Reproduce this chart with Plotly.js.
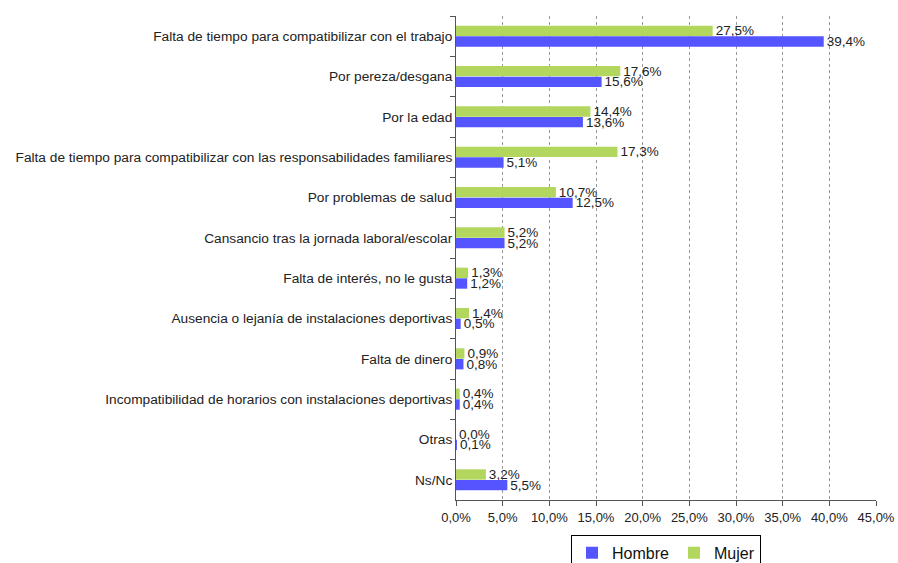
<!DOCTYPE html>
<html>
<head>
<meta charset="utf-8">
<script src="https://cdn.plot.ly/plotly-3.0.1.min.js"></script>
<style>html,body{margin:0;padding:0;background:#fff;}#chart{width:898px;height:563px;}</style>
</head>
<body>
<div id="chart"></div>
<script>
const categories = [
  "Falta de tiempo para compatibilizar con el trabajo",
  "Por pereza/desgana",
  "Por la edad",
  "Falta de tiempo para compatibilizar con las responsabilidades familiares",
  "Por problemas de salud",
  "Cansancio tras la jornada laboral/escolar",
  "Falta de interés, no le gusta",
  "Ausencia o lejanía de instalaciones deportivas",
  "Falta de dinero",
  "Incompatibilidad de horarios con instalaciones deportivas",
  "Otras",
  "Ns/Nc"
];
const mujer  = [27.5, 17.6, 14.4, 17.3, 10.7, 5.2, 1.3, 1.4, 0.9, 0.4, 0.0, 3.2];
const hombre = [39.4, 15.6, 13.6, 5.1, 12.5, 5.2, 1.2, 0.5, 0.8, 0.4, 0.1, 5.5];
const tickVals = [0, 5, 10, 15, 20, 25, 30, 35, 40, 45];
const tickText = tickVals.map(v => v.toFixed(1).replace(".", ",") + "%");

const FONT = "Liberation Sans, Arial, sans-serif";
const textFont = {family: FONT, size: 13.5, color: "#222"};

const traces = [
  {
    type: "bar", orientation: "h", name: "Mujer",
    y: categories, x: mujer,
    marker: {color: "#b2d65e", line: {width: 0}},
    texttemplate: "%{x:.1f}%", textposition: "outside", constraintext: "none",
    textfont: textFont, cliponaxis: false, legendrank: 2
  },
  {
    type: "bar", orientation: "h", name: "Hombre",
    y: categories, x: hombre,
    marker: {color: "#5555ff", line: {width: 0}},
    texttemplate: "%{x:.1f}%", textposition: "outside", constraintext: "none",
    textfont: textFont, cliponaxis: false, legendrank: 1
  }
];

const layout = {
  width: 898, height: 563,
  margin: {l: 456, r: 22, t: 16, b: 63, autoexpand: false},
  paper_bgcolor: "#fff", plot_bgcolor: "#fff",
  separators: ",.",
  barmode: "group",
  bargap: 0.47, bargroupgap: 0.03,
  font: {family: FONT, size: 13, color: "#222"},
  showlegend: true,
  legend: {
    orientation: "h", x: 0.5, xanchor: "center", y: -0.072, yanchor: "top",
    bordercolor: "#000", borderwidth: 1, font: {family: FONT, size: 16, color: "#111"},
    itemwidth: 30, tracegroupgap: 0
  },
  xaxis: {
    range: [0, 45], tickvals: tickVals, ticktext: tickText,
    showgrid: true, gridcolor: "#999", griddash: "3px,3px", gridwidth: 1,
    zeroline: false, showline: true, linecolor: "#555", linewidth: 1,
    ticks: "outside", ticklen: 5, tickcolor: "#555",
    tickfont: {family: FONT, size: 13, color: "#222"}, fixedrange: true
  },
  yaxis: {
    type: "category", autorange: "reversed",
    showline: true, linecolor: "#555", linewidth: 1,
    ticks: "outside", tickson: "boundaries", ticklen: 5, tickcolor: "#555",
    showgrid: false, zeroline: false,
    tickfont: {family: FONT, size: 13.7, color: "#222"}, fixedrange: true
  }
};

Plotly.newPlot("chart", traces, layout, {displayModeBar: false, staticPlot: true});
</script>
</body>
</html>
